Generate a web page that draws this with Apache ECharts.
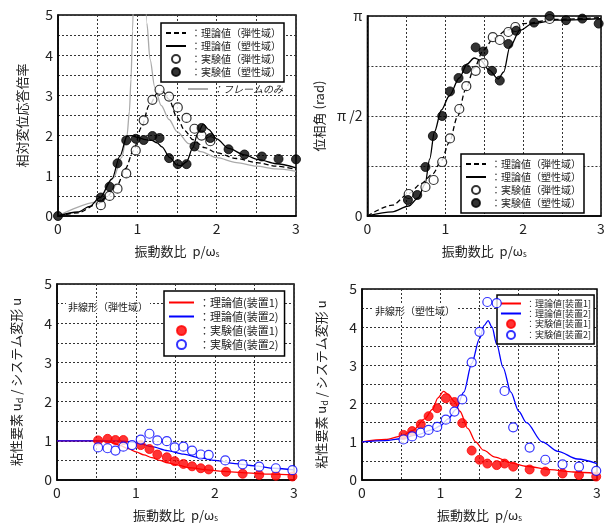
<!DOCTYPE html>
<html>
<head>
<meta charset="utf-8">
<script src="https://cdn.jsdelivr.net/npm/echarts@6/dist/echarts.min.js"></script>
<style>
  html, body { margin: 0; padding: 0; background: #fff; }
  .panel { position: absolute; }
</style>
</head>
<body>
<div id="c1" class="panel" style="left:0;top:0;width:305px;height:263px"></div>
<div id="c2" class="panel" style="left:305px;top:0;width:305px;height:263px"></div>
<div id="c3" class="panel" style="left:0;top:263px;width:305px;height:264px"></div>
<div id="c4" class="panel" style="left:305px;top:263px;width:305px;height:264px"></div>
<script>
// ---- panel 1: 相対変位応答倍率 ----
const p1TheoryElastic = [[0,0],[0.25,0.08],[0.5,0.3],[0.6,0.45],[0.75,0.78],[0.85,1.18],[0.95,1.62],[1.05,2.2],[1.15,2.75],[1.25,3.05],[1.32,3.1],[1.4,2.9],[1.5,2.45],[1.6,2.12],[1.7,1.9],[1.85,1.7],[2.0,1.57],[2.25,1.43],[2.5,1.33],[2.75,1.24],[3.0,1.16]];
const p1TheoryPlastic = [[0,0],[0.25,0.1],[0.4,0.24],[0.53,0.46],[0.68,0.92],[0.78,1.49],[0.87,1.99],[0.93,2.0],[1.01,1.95],[1.1,1.9],[1.18,1.88],[1.25,1.82],[1.31,1.72],[1.41,1.45],[1.5,1.27],[1.55,1.25],[1.62,1.35],[1.7,1.7],[1.76,2.05],[1.83,2.28],[1.9,2.15],[2.0,1.92],[2.15,1.68],[2.35,1.52],[2.53,1.4],[2.75,1.3],[3.0,1.2]];
const p1ExpElasticX = [0.54,0.65,0.75,0.86,0.98,1.08,1.19,1.28,1.40,1.51,1.62,1.72,1.81,1.92];
const p1ExpElasticY = [0.27,0.5,0.68,1.06,1.63,2.38,2.89,3.14,2.97,2.70,2.44,2.17,2.0,1.86];
const p1ExpPlasticX = [0,0.54,0.65,0.75,0.86,0.98,1.08,1.19,1.28,1.40,1.51,1.62,1.72,1.81,1.92,2.15,2.35,2.57,2.78,3.0];
const p1ExpPlasticY = [0,0.46,0.73,1.31,1.88,1.92,1.89,1.99,1.94,1.44,1.29,1.29,1.73,2.19,1.94,1.66,1.53,1.48,1.42,1.41];
const p1FrameLeft = [[0,0],[0.5,0.35],[0.7,0.95],[0.8,1.45],[0.87,2.0],[0.9,2.6],[0.92,3.4],[0.94,4.6],[0.96,6.5]];
const p1FrameRight = [[1.09,6.5],[1.12,4.8],[1.16,3.9],[1.22,3.2],[1.3,2.75],[1.4,2.4],[1.5,2.1],[1.65,1.8],[1.8,1.6],[2.0,1.45],[2.25,1.33],[2.5,1.24],[2.75,1.17],[3.0,1.11]];

// ---- panel 2: 位相角 (unit: π rad) ----
const p2TheoryElastic = [[0,0],[0.32,0.054],[0.53,0.112],[0.69,0.162],[0.84,0.211],[0.95,0.277],[1.05,0.368],[1.16,0.5],[1.26,0.632],[1.37,0.739],[1.49,0.83],[1.62,0.888],[1.79,0.929],[2.0,0.962],[2.42,0.983],[3,0.992]];
const p2TheoryPlastic = [[0,0],[0.32,0.021],[0.53,0.05],[0.65,0.09],[0.74,0.16],[0.8,0.285],[0.86,0.42],[0.95,0.53],[1.05,0.6],[1.18,0.69],[1.28,0.76],[1.37,0.79],[1.45,0.78],[1.56,0.731],[1.68,0.685],[1.75,0.72],[1.83,0.847],[1.96,0.929],[2.12,0.962],[2.42,0.979],[3,0.987]];
const p2ExpElasticX = [0.53,0.745,0.85,0.96,1.06,1.18,1.27,1.39,1.49,1.61,1.70,1.81,1.90,2.34];
const p2ExpElasticY = [0.11,0.145,0.18,0.27,0.388,0.535,0.649,0.726,0.764,0.894,0.88,0.92,0.945,0.985];
const p2ExpPlasticX = [0.52,0.64,0.745,0.84,0.96,1.06,1.17,1.27,1.39,1.49,1.60,1.70,1.81,1.91,2.14,2.34,2.55,2.76,2.97];
const p2ExpPlasticY = [0.08,0.105,0.245,0.4,0.5,0.623,0.69,0.735,0.843,0.823,0.726,0.677,0.86,0.926,0.967,1.0,0.979,0.987,0.962];
const p2TickLabels = { 0: '0', 0.5: 'π /2', 1: 'π' };

// ---- panel 3: 非線形（弾性域） ----
const p3Theory1 = [[0,1],[0.5,1],[0.6,0.99],[0.7,0.95],[0.8,0.88],[0.9,0.8],[1.0,0.72],[1.1,0.64],[1.2,0.57],[1.3,0.5],[1.4,0.44],[1.5,0.39],[1.7,0.31],[1.9,0.26],[2.1,0.22],[2.4,0.18],[2.7,0.15],[3.0,0.13]];
const p3Theory2 = [[0,1],[0.5,1],[0.8,1],[0.95,0.97],[1.05,0.93],[1.2,0.85],[1.4,0.75],[1.6,0.66],[1.8,0.57],[2.0,0.5],[2.25,0.42],[2.5,0.36],[2.75,0.3],[3.0,0.26]];
const p3Exp1X = [0.52,0.64,0.74,0.84,1.06,1.17,1.27,1.39,1.49,1.6,1.71,1.82,1.92,2.14,2.35,2.56,2.77,2.98];
const p3Exp1Y = [1.01,1.05,1.02,1.02,0.89,0.79,0.65,0.58,0.48,0.41,0.35,0.30,0.27,0.21,0.16,0.13,0.11,0.09];
const p3Exp2X = [0.52,0.64,0.74,0.84,0.95,1.06,1.17,1.27,1.39,1.49,1.6,1.71,1.82,1.92,2.13,2.35,2.56,2.77,2.98];
const p3Exp2Y = [0.83,0.81,0.75,0.85,0.89,1.03,1.18,1.01,0.99,0.83,0.85,0.75,0.65,0.64,0.5,0.4,0.34,0.3,0.25];

// ---- panel 4: 非線形（塑性域） ----
const p4Theory1 = [[0,1],[0.3,1.06],[0.5,1.15],[0.65,1.3],[0.8,1.6],[0.9,1.85],[0.97,2.15],[1.04,2.32],[1.1,2.25],[1.18,2.05],[1.25,1.8],[1.35,1.35],[1.45,1.0],[1.55,0.78],[1.7,0.6],[1.9,0.45],[2.1,0.36],[2.4,0.27],[2.7,0.21],[3.0,0.17]];
const p4Theory2 = [[0,1],[0.3,1.03],[0.5,1.08],[0.7,1.18],[0.9,1.32],[1.0,1.42],[1.1,1.6],[1.2,1.85],[1.3,2.3],[1.4,3.05],[1.5,3.7],[1.56,4.05],[1.61,4.17],[1.66,4.0],[1.72,3.55],[1.8,2.95],[1.9,2.3],[2.0,1.8],[2.1,1.5],[2.3,1.0],[2.5,0.75],[2.75,0.55],[3.0,0.43]];
const p4ExpX = [0.53,0.64,0.75,0.85,0.96,1.07,1.18,1.28,1.40,1.50,1.60,1.72,1.82,1.93,2.14,2.34,2.56,2.77,2.99];
const p4Exp1Y = [1.18,1.28,1.46,1.67,1.88,2.14,2.04,1.49,0.77,0.53,0.43,0.39,0.43,0.35,0.275,0.22,0.17,0.13,0.09];
const p4Exp2Y = [1.06,1.14,1.24,1.31,1.39,1.58,1.79,2.11,3.08,3.88,4.66,4.63,2.33,1.38,0.85,0.53,0.41,0.35,0.24];

const font = "'Noto Sans CJK JP', sans-serif";
const zip = (xs, ys) => xs.map((x, i) => [x, ys[i]]);

function xAxisOpt(gap) {
  return {
    type: 'value', min: 0, max: 3, interval: 0.5,
    name: '振動数比  p/ω{s|s}', nameLocation: 'middle', nameGap: gap,
    nameTextStyle: { fontSize: 13, color: '#222', fontFamily: font,
      rich: { s: { fontSize: 8, color: '#222', padding: [6, 0, 0, 0] } } },
    axisLine: { show: true, onZero: false, lineStyle: { color: '#000', width: 1.5 } },
    axisTick: { show: false },
    axisLabel: { color: '#222', fontSize: 14, margin: 6, fontFamily: font,
      formatter: v => (v % 1 === 0 ? String(v) : '') },
    splitLine: { show: true, lineStyle: { color: '#333', type: [2, 2], width: 1 } }
  };
}

function yAxisOpt(name, gap, extra) {
  return Object.assign({
    type: 'value', min: 0, max: 5, interval: 0.5,
    name: name, nameLocation: 'middle', nameGap: gap, nameRotate: 90,
    nameTextStyle: { fontSize: 13, color: '#222', fontFamily: font,
      rich: { d: { fontSize: 9, color: '#222', padding: [6, 0, 0, 0] } } },
    axisLine: { show: true, lineStyle: { color: '#000', width: 1.5 } },
    axisTick: { show: false },
    axisLabel: { color: '#222', fontSize: 14, margin: 5, fontFamily: font,
      formatter: v => (v % 1 === 0 ? String(v) : '') },
    splitLine: { show: true, lineStyle: { color: '#333', type: [2, 2], width: 1 } }
  }, extra || {});
}

function gridOpt(left, top, width, height) {
  return { left, top, width, height, show: true, borderColor: '#000', borderWidth: 1.5, backgroundColor: 'transparent' };
}

function line(name, data, color, dashed) {
  return { name, type: 'line', data, symbol: 'none', smooth: 0.3, smoothMonotone: 'x',
    lineStyle: { color, width: 1.3, type: dashed ? [5, 3] : 'solid' }, itemStyle: { color }, z: 3 };
}
function dots(name, data, color, hollow) {
  return { name, type: 'scatter', data, symbol: 'circle', symbolSize: 9,
    itemStyle: hollow ? { color: '#fff', borderColor: color, borderWidth: 1.2 } : { color, borderColor: color, borderWidth: 1 }, z: 4 };
}

// legend entries: line items hide the marker dot, keep only the stroke
const lineItem = name => ({ name, itemStyle: { opacity: 0 } });

function legendBox(items, left, top, size, extra) {
  return Object.assign({
    data: items, orient: 'vertical', left, top, selectedMode: false,
    backgroundColor: '#fff', borderColor: '#000', borderWidth: 1.5, padding: [5, 3, 5, 4],
    itemWidth: 20, itemHeight: 8, itemGap: 3,
    textStyle: { fontSize: size, color: '#222', fontFamily: font },
    formatter: n => '：' + n
  }, extra || {});
}

// panel 1
const chart1 = echarts.init(document.getElementById('c1'));
chart1.setOption({
  animation: false,
  grid: gridOpt(58, 15, 238, 202),
  xAxis: xAxisOpt(28),
  yAxis: yAxisOpt('相対変位応答倍率', 29),
  legend: [
    legendBox([lineItem('理論値（弾性域）'), lineItem('理論値（塑性域）'), '実験値（弾性域）', '実験値（塑性域）'], 161, 23, 10),
    { data: [lineItem('フレームのみ')], left: 187, top: 84, selectedMode: false, itemWidth: 20, itemHeight: 8, padding: 0,
      textStyle: { fontSize: 10, color: '#222', fontFamily: font, fontStyle: 'italic' }, formatter: n => '：' + n }
  ],
  series: [
    Object.assign(line('フレームのみ', p1FrameLeft, '#aaa'), { z: 2 }),
    Object.assign(line('フレームのみ', p1FrameRight, '#aaa'), { z: 2 }),
    line('理論値（弾性域）', p1TheoryElastic, '#000', true),
    line('理論値（塑性域）', p1TheoryPlastic, '#000'),
    dots('実験値（弾性域）', zip(p1ExpElasticX, p1ExpElasticY), '#000', true),
    dots('実験値（塑性域）', zip(p1ExpPlasticX, p1ExpPlasticY), '#000')
  ]
});

// panel 2
const chart2 = echarts.init(document.getElementById('c2'));
chart2.setOption({
  animation: false,
  grid: gridOpt(58, 16, 238, 202),
  xAxis: xAxisOpt(28),
  yAxis: yAxisOpt('位相角 (rad)', 34, {
    max: 1, interval: 0.25,
    axisLabel: { color: '#222', fontSize: 14, margin: 5, fontFamily: font,
      formatter: v => (p2TickLabels[v] !== undefined ? p2TickLabels[v] : '') }
  }),
  legend: [
    legendBox([lineItem('理論値（弾性域）'), lineItem('理論値（塑性域）'), '実験値（弾性域）', '実験値（塑性域）'], 156, 154, 10)
  ],
  series: [
    line('理論値（弾性域）', p2TheoryElastic, '#000', true),
    line('理論値（塑性域）', p2TheoryPlastic, '#000'),
    dots('実験値（弾性域）', zip(p2ExpElasticX, p2ExpElasticY), '#000', true),
    dots('実験値（塑性域）', zip(p2ExpPlasticX, p2ExpPlasticY), '#000')
  ]
});

// panel 3
const chart3 = echarts.init(document.getElementById('c3'));
chart3.setOption({
  animation: false,
  title: { text: '非線形（弾性域）', left: 66, top: 38, padding: [1, 2],
    backgroundColor: '#fff', textStyle: { fontSize: 10, fontWeight: 'normal', color: '#222', fontFamily: font } },
  grid: gridOpt(57, 21, 237, 203),
  xAxis: xAxisOpt(28),
  yAxis: yAxisOpt('粘性要素 u{d|d} / システム変形 u', 33),
  legend: [
    legendBox([lineItem('理論値(装置1)'), lineItem('理論値(装置2)'), '実験値(装置1)', '実験値(装置2)'], 164, 28, 11,
      { itemWidth: 25, itemHeight: 9, padding: [6, 6, 6, 4] })
  ],
  series: [
    line('理論値(装置1)', p3Theory1, '#f00'),
    line('理論値(装置2)', p3Theory2, '#00f'),
    dots('実験値(装置1)', zip(p3Exp1X, p3Exp1Y), '#f00'),
    dots('実験値(装置2)', zip(p3Exp2X, p3Exp2Y), '#00f', true)
  ]
});

// panel 4
const chart4 = echarts.init(document.getElementById('c4'));
chart4.setOption({
  animation: false,
  title: { text: '非線形（塑性域）', left: 68, top: 42, padding: [1, 2],
    backgroundColor: '#fff', textStyle: { fontSize: 10, fontWeight: 'normal', color: '#222', fontFamily: font } },
  grid: gridOpt(57, 26, 235, 200),
  xAxis: xAxisOpt(28),
  yAxis: yAxisOpt('粘性要素 u{d|d} / システム変形 u', 33),
  legend: [
    legendBox([lineItem('理論値[装置1]'), lineItem('理論値[装置2]'), '実験値[装置1]', '実験値[装置2]'], 192, 32, 9,
      { itemWidth: 20, itemHeight: 8, itemGap: 1, padding: [4, 3, 4, 3] })
  ],
  series: [
    line('理論値[装置1]', p4Theory1, '#f00'),
    line('理論値[装置2]', p4Theory2, '#00f'),
    dots('実験値[装置1]', zip(p4ExpX, p4Exp1Y), '#f00'),
    dots('実験値[装置2]', zip(p4ExpX, p4Exp2Y), '#00f', true)
  ]
});
</script>
</body>
</html>
